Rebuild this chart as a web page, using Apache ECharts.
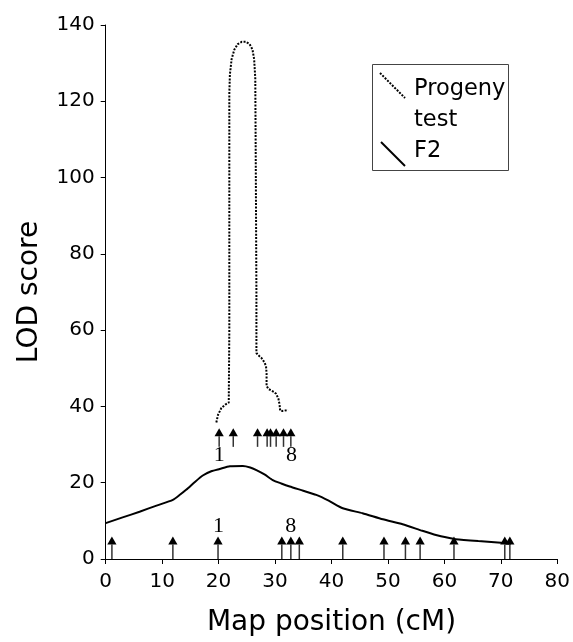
<!DOCTYPE html>
<html>
<head>
<meta charset="utf-8">
<script src="https://cdn.jsdelivr.net/npm/echarts@6/dist/echarts.min.js"></script>
<style>
html,body{margin:0;padding:0;background:#fff;}
#chart{width:573px;height:642px;}
</style>
</head>
<body>
<div id="chart"></div>
<script>
// ---- Data ----
const xTicks = [0, 80, 10];            // min, max, interval (cM)
const yTicks = [0, 140, 20];           // min, max, interval (LOD)

// Progeny test LOD profile [map position, LOD]
const progenyX = [19.6, 19.9, 20.5, 21.2, 21.8, 21.9, 21.9, 21.9, 22.0, 22.3, 22.8, 23.4, 24.1, 24.8, 25.5, 26.0, 26.3, 26.5, 26.6, 26.7, 26.7, 27.2, 27.6, 28.1, 28.4, 28.5, 28.5, 28.8, 29.3, 29.8, 30.2, 30.6, 30.8, 30.9, 31.3, 31.7, 32.3];
const progenyY = [35.8, 37.8, 39.6, 40.5, 41.0, 60, 100, 122, 127, 131, 133.6, 135.0, 135.6, 135.6, 135.0, 133.6, 131, 126, 100, 70, 54.0, 53.2, 52.7, 51.6, 50.6, 48.7, 45.4, 44.6, 44.2, 43.8, 43.3, 42.0, 40.5, 38.9, 38.8, 38.9, 39.1];

// F2 LOD profile
const f2X = [0, 3, 6, 9, 11.9, 13.2, 14.3, 15.8, 17.2, 18.7, 20.2, 22.0, 24.3, 25.6, 26.7, 28.2, 29.6, 31.1, 32.6, 35.0, 37.3, 39.5, 42.0, 45.5, 49.1, 52.6, 56.1, 58.5, 60.9, 62.0, 66.0, 70.6, 71.8];
const f2Y = [9.4, 10.9, 12.4, 14.0, 15.5, 16.9, 18.2, 20.2, 21.9, 23.0, 23.6, 24.3, 24.4, 24.0, 23.3, 22.1, 20.7, 19.8, 19.0, 17.9, 16.8, 15.3, 13.3, 12.0, 10.4, 9.1, 7.4, 6.3, 5.5, 5.2, 4.7, 4.2, 4.0];

// Marker positions (arrows)
const f2Markers = [1.1, 11.9, 19.9, 31.2, 32.8, 34.3, 42.0, 49.3, 53.1, 55.7, 61.7, 70.7, 71.6];
const f2ArrowBase = 0, f2ArrowTip = 5.9;
const progenyMarkers = [20.1, 22.6, 26.9, 28.6, 29.2, 30.2, 31.5, 32.8];
const progenyArrowBase = 29.4, progenyArrowTip = 34.3;

// Marker numbers
const markerText = ['1', '8'];
const f2LabelX = [20.0, 32.8], f2LabelY = 8.5;
const progenyLabelX = [20.1, 32.9], progenyLabelY = 27.3;

const legendNames = ['Progeny\ntest', 'F2'];
const xName = 'Map position (cM)';
const yName = 'LOD score';

// ---- Build options ----
const pairs = (xs, ys) => xs.map((x, i) => [x, ys[i]]);

function arrowItem(params, api) {
  const p0 = api.coord([api.value(0), api.value(1)]);
  const p1 = api.coord([api.value(0), api.value(2)]);
  const hh = 8, hw = 4.6;
  return {
    type: 'group',
    children: [
      { type: 'line', shape: { x1: p0[0], y1: p0[1], x2: p1[0], y2: p1[1] + hh },
        style: { stroke: '#333', lineWidth: 1.5 } },
      { type: 'polygon', shape: { points: [[p1[0], p1[1]], [p1[0] - hw, p1[1] + hh], [p1[0] + hw, p1[1] + hh]] },
        style: { fill: '#000' } }
    ]
  };
}
function textItem(params, api) {
  const p = api.coord([api.value(0), api.value(1)]);
  return {
    type: 'text', x: p[0], y: p[1],
    style: { text: markerText[params.dataIndex % 2], font: '22px "Liberation Serif", serif', fill: '#000', align: 'center', verticalAlign: 'middle' }
  };
}

const font = '"DejaVu Sans", Arial, sans-serif';
const axisCommon = {
  axisLine: { show: true, lineStyle: { color: '#000', width: 1 } },
  axisTick: { show: true, inside: false, length: 5, lineStyle: { color: '#000' } },
  splitLine: { show: false },
  axisLabel: { color: '#000', fontSize: 20, fontFamily: font },
  nameTextStyle: { color: '#000', fontSize: 28, fontFamily: font },
  nameLocation: 'middle'
};

const option = {
  animation: false,
  backgroundColor: '#fff',
  grid: { left: 105.7, right: 14.5, top: 25, bottom: 82.7, containLabel: false },
  xAxis: Object.assign({}, axisCommon, {
    type: 'value', min: xTicks[0], max: xTicks[1], interval: xTicks[2],
    name: xName, nameGap: 50,
    axisLabel: Object.assign({}, axisCommon.axisLabel, { margin: 13 })
  }),
  yAxis: Object.assign({}, axisCommon, {
    type: 'value', min: yTicks[0], max: yTicks[1], interval: yTicks[2],
    name: yName, nameGap: 62, nameRotate: 90,
    axisLabel: Object.assign({}, axisCommon.axisLabel, { margin: 11 })
  }),
  series: [
    { name: legendNames[0], type: 'line', data: pairs(progenyX, progenyY), showSymbol: false, symbol: 'none',
      smooth: false, lineStyle: { color: '#000', width: 2, type: [2, 1.4] }, z: 3 },
    { name: legendNames[1], type: 'line', data: pairs(f2X, f2Y), showSymbol: false, symbol: 'none',
      smooth: 0.2, lineStyle: { color: '#000', width: 2 }, z: 3 },
    { type: 'custom', renderItem: arrowItem, data: f2Markers.map(x => [x, f2ArrowBase, f2ArrowTip]), z: 4 },
    { type: 'custom', renderItem: arrowItem, data: progenyMarkers.map(x => [x, progenyArrowBase, progenyArrowTip]), z: 4 },
    { type: 'custom', renderItem: textItem, data: f2LabelX.map(x => [x, f2LabelY]), z: 5 },
    { type: 'custom', renderItem: textItem, data: progenyLabelX.map(x => [x, progenyLabelY]), z: 5 }
  ],
  graphic: [
    { type: 'rect', left: 372, top: 64, shape: { width: 136, height: 106 },
      style: { fill: '#fff', stroke: '#444', lineWidth: 1 }, z: 10 },
    { type: 'line', shape: { x1: 380, y1: 73, x2: 405, y2: 98 },
      style: { stroke: '#000', lineWidth: 2, lineDash: [2, 1.4] }, z: 11 },
    { type: 'line', shape: { x1: 381, y1: 142, x2: 405, y2: 166 },
      style: { stroke: '#000', lineWidth: 2 }, z: 11 },
    { type: 'text', x: 414, y: 89, style: { text: 'Progeny', font: '22.5px ' + font, fill: '#000', verticalAlign: 'middle' }, z: 11 },
    { type: 'text', x: 414, y: 120, style: { text: 'test', font: '22.5px ' + font, fill: '#000', verticalAlign: 'middle' }, z: 11 },
    { type: 'text', x: 414, y: 151, style: { text: legendNames[1], font: '22.5px ' + font, fill: '#000', verticalAlign: 'middle' }, z: 11 }
  ]
};

const chart = echarts.init(document.getElementById('chart'), null, { renderer: 'canvas' });
chart.setOption(option);
</script>
</body>
</html>
